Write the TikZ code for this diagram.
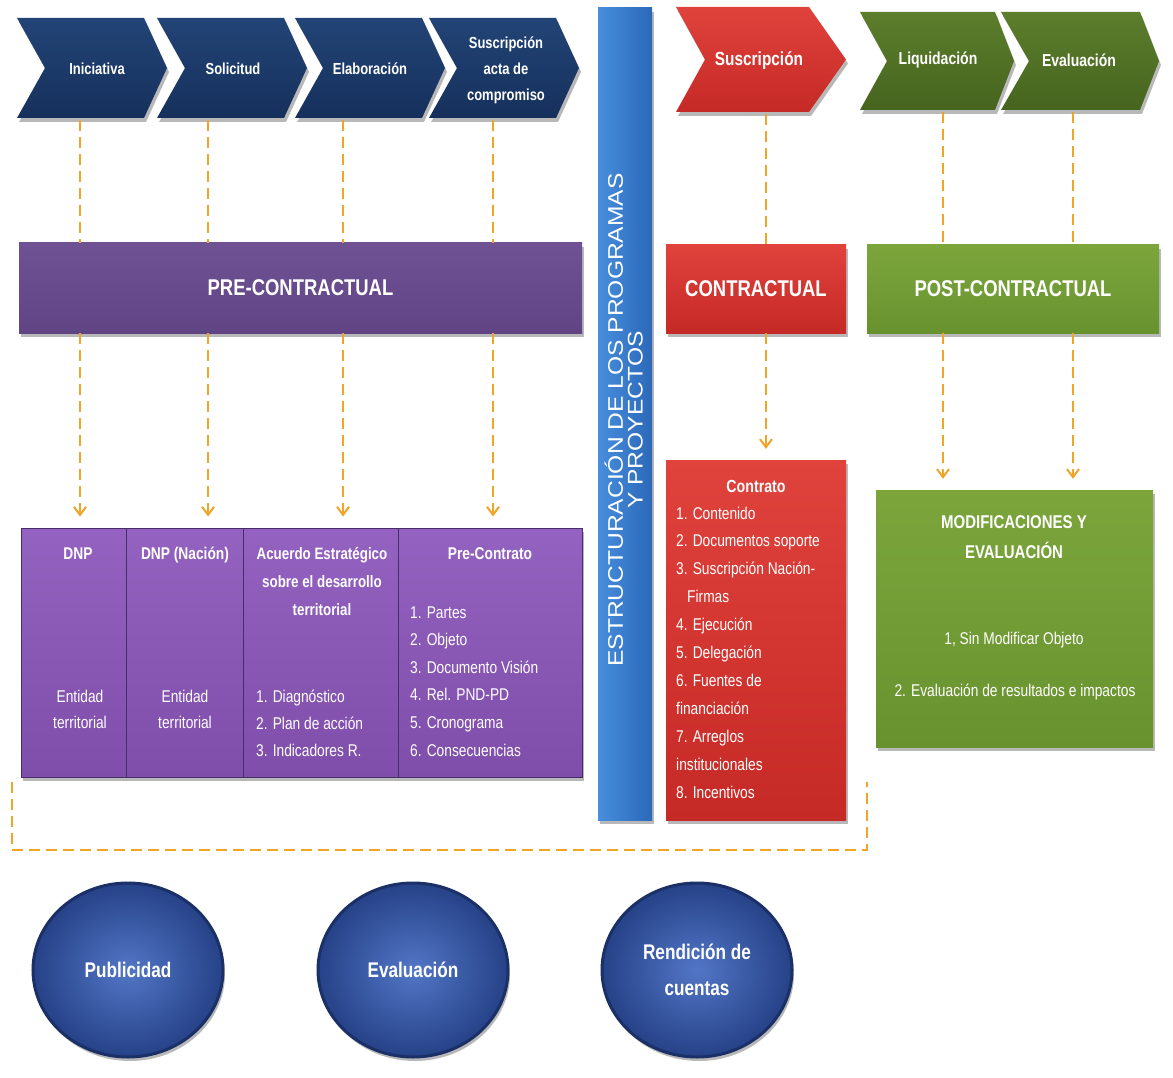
\documentclass[tikz,border=0pt]{standalone}
\usepackage{fontspec}
\setmainfont{Liberation Sans}[FakeStretch=0.81]
\newfontfamily\barfont{Liberation Sans}
\usetikzlibrary{shadows,arrows.meta,shapes.geometric}
\definecolor{navyT}{RGB}{34,68,118}
\definecolor{navyB}{RGB}{22,48,92}
\definecolor{redT}{RGB}{224,66,60}
\definecolor{redB}{RGB}{198,42,38}
\definecolor{grchT}{RGB}{92,126,44}
\definecolor{grchB}{RGB}{70,100,30}
\definecolor{pbarT}{RGB}{110,82,148}
\definecolor{pbarB}{RGB}{96,68,132}
\definecolor{pboxT}{RGB}{148,98,192}
\definecolor{pboxB}{RGB}{126,78,170}
\definecolor{pline}{RGB}{72,46,104}
\definecolor{grT}{RGB}{124,166,60}
\definecolor{grB}{RGB}{104,146,46}
\definecolor{blueL}{RGB}{72,142,222}
\definecolor{blueR}{RGB}{44,104,184}
\definecolor{orangec}{RGB}{240,165,40}
\definecolor{ellin}{RGB}{82,118,198}
\definecolor{ellout}{RGB}{38,66,136}
\definecolor{elledge}{RGB}{26,48,102}
\newcommand\mychev[7]{%
  \path[#7] (#1,#2) -- (#5,#2) -- (#6,{(#2+#3)/2}) -- (#5,#3) -- (#1,#3) -- (#4,{(#2+#3)/2}) -- cycle;}
\begin{document}
\begin{tikzpicture}[x=1pt,y=-1pt,
  shd/.style={drop shadow={shadow xshift=2pt,shadow yshift=-4pt,fill=black,opacity=0.28}},
  navys/.style={top color=navyT,bottom color=navyB,shd},
  reds/.style={top color=redT,bottom color=redB,shd},
  grchs/.style={top color=grchT,bottom color=grchB,shd},
  chevt/.style={text=white,align=center,inner sep=0pt,font=\bfseries\fontsize{16}{26}\selectfont},
  bartxt/.style={text=white,inner sep=0pt,font=\bfseries\fontsize{22.8}{24}\selectfont},
  pbox/.style={draw=pline,line width=1pt,top color=pboxT,bottom color=pboxB,shd,inner sep=0pt},
  lst/.style={text=white,anchor=base west,inner sep=0pt,font=\fontsize{17}{19}\selectfont},
  cln/.style={text=white,anchor=base,inner sep=0pt,font=\fontsize{17}{19}\selectfont},
  hd/.style={cln,font=\bfseries\fontsize{17}{19}\selectfont},
  dsh/.style={draw=orangec,line width=2.2pt,dash pattern=on 11pt off 6pt},
  darr/.style={dsh,-{Straight Barb[length=8pt,width=12pt,line width=2pt]},shorten >=11pt},
  ell/.style={ellipse,draw=elledge,line width=3pt,inner color=ellin,outer color=ellout,
    minimum width=190pt,minimum height=174pt,inner sep=0pt,shd,text=white,align=center,
    font=\bfseries\fontsize{21.2}{36}\selectfont}]
\useasboundingbox[fill=white] (0,0) rectangle (1173,1078);

% ---- top chevrons
\mychev{17}{18}{118}{45}{144}{167}{navys}
\mychev{157}{18}{118}{185}{284}{307}{navys}
\mychev{295}{18}{118}{323}{422}{445}{navys}
\mychev{429}{18}{118}{457}{556}{579}{navys}
\mychev{676}{7}{112}{705}{809}{846}{reds}
\mychev{860}{12}{110}{887}{995}{1014}{grchs}
\mychev{1001}{12}{110}{1029}{1140}{1159}{grchs}
\node[chevt] (c1) at (97,69) {Iniciativa};
\node[chevt] (c2) at (233,69) {Solicitud};
\node[chevt] (c3) at (370,69) {Elaboración};
\node[chevt] (c4) at (506,70) {Suscripción\\acta de\\compromiso};
\node[chevt,font=\bfseries\fontsize{19}{22}\selectfont] (c5) at (759,61) {Suscripción};
\node[chevt,font=\bfseries\fontsize{17.3}{20}\selectfont] (c6) at (938,60) {Liquidación};
\node[chevt,font=\bfseries\fontsize{17.3}{20}\selectfont] (c7) at (1079,60) {Evaluación};

% ---- blue vertical bar
\node[left color=blueL,right color=blueR,shd,
  minimum width=54pt,minimum height=812pt,inner sep=0pt] (estr) at (625,414) {};
\node[text=white,rotate=90,inner sep=0pt] (estrt) at (626,420)
  {\scalebox{1}[0.86]{\barfont\fontsize{24.6}{19}\selectfont
   \begin{tabular}{@{}c@{}}ESTRUCTURACIÓN DE LOS PROGRAMAS\\Y PROYECTOS\end{tabular}}};

% ---- phase bars
\node[bartxt,top color=pbarT,bottom color=pbarB,shd,minimum width=563pt,minimum height=90pt] (pre) at (300.5,288) {PRE-CONTRACTUAL};
\node[bartxt,top color=redT,bottom color=redB,shd,minimum width=180pt,minimum height=88pt] (con) at (756,289) {CONTRACTUAL};
\node[bartxt,top color=grT,bottom color=grB,shd,minimum width=292pt,minimum height=88pt] (post) at (1013,289) {POST-CONTRACTUAL};

% ---- purple boxes
\node[pbox,minimum width=105pt,minimum height=249pt] (b1) at (73.5,652.5) {};
\node[pbox,minimum width=117pt,minimum height=249pt] (b2) at (184.5,652.5) {};
\node[pbox,minimum width=155pt,minimum height=249pt] (b3) at (320.5,652.5) {};
\node[pbox,minimum width=184pt,minimum height=249pt] (b4) at (490,652.5) {};
\node[hd] (b1h) at (78,559) {DNP};
\node[cln] (b1a) at (80,702) {Entidad};
\node[cln] (b1b) at (80,728) {territorial};
\node[hd] (b2h) at (185,559) {DNP (Nación)};
\node[cln] (b2a) at (185,702) {Entidad};
\node[cln] (b2b) at (185,728) {territorial};
\node[hd,font=\bfseries\fontsize{16.5}{19}\selectfont] (b3h1) at (322,559) {Acuerdo Estratégico};
\node[hd,font=\bfseries\fontsize{16.5}{19}\selectfont] (b3h2) at (322,587) {sobre el desarrollo};
\node[hd,font=\bfseries\fontsize{16.5}{19}\selectfont] (b3h3) at (322,615) {territorial};
\foreach \t [count=\i from 0] in {1. Diagnóstico,2. Plan de acción,3. Indicadores R.}
  \node[lst] (b3l\i) at (256,{702+27*\i}) {\t};
\node[hd] (b4h) at (490,559) {Pre-Contrato};
\foreach \t [count=\i from 0] in {1. Partes,2. Objeto,3. Documento Visión,4. Rel. PND-PD,5. Cronograma,6. Consecuencias}
  \node[lst] (b4l\i) at (410,{618+27.6*\i}) {\t};

% ---- red contract box
\node[top color=redT,bottom color=redB,shd,minimum width=180pt,minimum height=360pt,inner sep=0pt] (cbox) at (756,640) {};
\node[hd,font=\bfseries\fontsize{17.5}{19}\selectfont] (cboxh) at (756,492) {Contrato};
\foreach \x/\t [count=\i from 0] in {676/1. Contenido,676/2. Documentos soporte,676/3. Suscripción Nación-,687/Firmas,676/4. Ejecución,676/5. Delegación,676/6. Fuentes de,676/financiación,676/7. Arreglos,676/institucionales,676/8. Incentivos}
  \node[lst] (cl\i) at (\x,{519+27.9*\i}) {\t};

% ---- green box
\node[top color=grT,bottom color=grB,shd,minimum width=277pt,minimum height=257pt,inner sep=0pt] (gbox) at (1014.5,618.5) {};
\node[hd,font=\bfseries\fontsize{18.5}{19}\selectfont] (gh1) at (1014,528) {MODIFICACIONES Y};
\node[hd,font=\bfseries\fontsize{18.5}{19}\selectfont] (gh2) at (1014,558) {EVALUACIÓN};
\node[cln] (gl1) at (1014,644) {1, Sin Modificar Objeto};
\node[cln] (gl2) at (1015,696) {2. Evaluación de resultados e impactos};

% ---- dashed connectors
\coordinate (t1) at (80,120);
\coordinate (t2) at (208,120);
\coordinate (t3) at (343,120);
\coordinate (t4) at (493,120);
\coordinate (t5) at (766,114);
\coordinate (t6) at (943,112);
\coordinate (t7) at (1073,112);
\foreach \n/\b in {1/b1,2/b2,3/b3,4/b4}{
  \draw[dsh] (t\n) -- (t\n |- pre.north);
  \draw[darr] (t\n |- pre.south) -- (t\n |- \b.north);}
\draw[dsh] (t5) -- (t5 |- con.north);
\draw[darr] (t5 |- con.south) -- (t5 |- cbox.north);
\foreach \n in {6,7}{
  \draw[dsh] (t\n) -- (t\n |- post.north);
  \draw[darr] (t\n |- post.south) -- (t\n |- gbox.north);}

% ---- dashed bracket
\coordinate (k1) at (12,782);
\coordinate (k2) at (12,850);
\coordinate (k3) at (867,850);
\coordinate (k4) at (867,782);
\draw[dsh] (k1) -- (k2) -- (k3) -- (k4);

% ---- ellipses
\node[ell] (e1) at (128,970) {Publicidad};
\node[ell] (e2) at (413,970) {Evaluación};
\node[ell] (e3) at (697,970) {Rendición de\\cuentas};
\end{tikzpicture}
\end{document}
